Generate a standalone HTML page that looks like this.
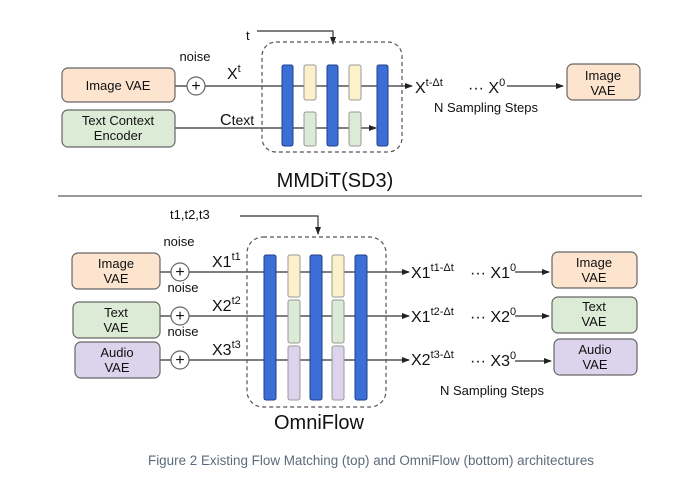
<!DOCTYPE html>
<html><head><style>
html,body{margin:0;padding:0;background:#fff;}
svg{display:block;font-family:"Liberation Sans",Arial,sans-serif;}
</style></head><body>
<svg width="690" height="482" viewBox="0 0 690 482" xmlns="http://www.w3.org/2000/svg">
<defs>
<marker id="a" markerWidth="8" markerHeight="6" refX="7" refY="3" orient="auto" markerUnits="userSpaceOnUse"><path d="M0,0 L8,3 L0,6z" fill="#222"/></marker>
</defs>
<g stroke="#333" stroke-width="1.2" fill="none">
<line x1="175" y1="86" x2="412" y2="86" marker-end="url(#a)"/>
<line x1="175" y1="128" x2="376" y2="128" marker-end="url(#a)"/>
<polyline points="257,31 333,31 333,44" marker-end="url(#a)"/>
<line x1="507" y1="86" x2="563" y2="86" marker-end="url(#a)"/>
<rect x="262" y="42" width="140" height="110" rx="14" stroke-dasharray="4,3" stroke="#555"/>
<line x1="160" y1="272" x2="409" y2="272" marker-end="url(#a)"/>
<line x1="160" y1="316" x2="409" y2="316" marker-end="url(#a)"/>
<line x1="160" y1="360" x2="409" y2="360" marker-end="url(#a)"/>
<polyline points="240,216 318,216 318,234" marker-end="url(#a)"/>
<line x1="515" y1="272" x2="549" y2="272" marker-end="url(#a)"/>
<line x1="515" y1="316" x2="549" y2="316" marker-end="url(#a)"/>
<line x1="515" y1="361" x2="551" y2="361" marker-end="url(#a)"/>
<rect x="247" y="237" width="139" height="170" rx="16" stroke-dasharray="4,3" stroke="#555"/>
</g>
<line x1="58" y1="196" x2="642" y2="196" stroke="#333" stroke-width="1"/>
<g stroke="#666" stroke-width="1.2">
<rect x="62" y="68" width="113" height="34" rx="6" fill="#fde4cf"/>
<rect x="62" y="110" width="113" height="37" rx="6" fill="#dcebd6"/>
<rect x="567" y="64" width="73" height="36" rx="6" fill="#fde4cf"/>
<rect x="72" y="253" width="88" height="36" rx="6" fill="#fde4cf"/>
<rect x="73" y="302" width="87" height="36" rx="6" fill="#dcebd6"/>
<rect x="75" y="342" width="85" height="36" rx="6" fill="#dcd4ec"/>
<rect x="552" y="252" width="85" height="36" rx="6" fill="#fde4cf"/>
<rect x="552" y="297" width="85" height="36" rx="6" fill="#dcebd6"/>
<rect x="554" y="339" width="83" height="36" rx="6" fill="#dcd4ec"/>
<circle cx="196" cy="86" r="9" fill="#fff"/>
<circle cx="180" cy="272" r="9" fill="#fff"/>
<circle cx="180" cy="316" r="9" fill="#fff"/>
<circle cx="180" cy="360" r="9" fill="#fff"/>
</g>
<g stroke="#1f3f8a" stroke-width="1" fill="#3b6fd6">
<rect x="282" y="65" width="11" height="81" rx="2"/>
<rect x="327" y="65" width="11" height="81" rx="2"/>
<rect x="377" y="65" width="11" height="81" rx="2"/>
<rect x="264" y="255" width="12" height="145" rx="2"/>
<rect x="310" y="255" width="12" height="145" rx="2"/>
<rect x="355" y="255" width="12" height="145" rx="2"/>
</g>
<g stroke="#999" stroke-width="1">
<rect x="304" y="65" width="12" height="35" rx="2" fill="#fdf1c9"/>
<rect x="349" y="65" width="12" height="35" rx="2" fill="#fdf1c9"/>
<rect x="304" y="112" width="12" height="34" rx="2" fill="#dcebd6"/>
<rect x="349" y="112" width="12" height="34" rx="2" fill="#dcebd6"/>
<rect x="288" y="255" width="12" height="42" rx="2" fill="#fdf1c9"/>
<rect x="332" y="255" width="12" height="42" rx="2" fill="#fdf1c9"/>
<rect x="288" y="300" width="12" height="43" rx="2" fill="#dcebd6"/>
<rect x="332" y="300" width="12" height="43" rx="2" fill="#dcebd6"/>
<rect x="288" y="346" width="12" height="54" rx="2" fill="#dcd4ec"/>
<rect x="332" y="346" width="12" height="54" rx="2" fill="#dcd4ec"/>
</g>
<g fill="#111" font-size="13" text-anchor="middle">
<text x="196" y="91" font-size="16">+</text>
<text x="180" y="277" font-size="16">+</text>
<text x="180" y="321" font-size="16">+</text>
<text x="180" y="365" font-size="16">+</text>
<text x="118" y="90">Image VAE</text>
<text x="118" y="125">Text Context</text>
<text x="118" y="140">Encoder</text>
<text x="603" y="80">Image</text>
<text x="603" y="95">VAE</text>
<text x="116" y="268">Image</text><text x="116" y="283">VAE</text>
<text x="116" y="317">Text</text><text x="116" y="332">VAE</text>
<text x="117" y="357">Audio</text><text x="117" y="372">VAE</text>
<text x="594" y="267">Image</text><text x="594" y="282">VAE</text>
<text x="594" y="311">Text</text><text x="594" y="326">VAE</text>
<text x="595" y="354">Audio</text><text x="595" y="369">VAE</text>
<text x="195" y="61">noise</text>
<text x="179" y="246">noise</text>
<text x="183" y="292">noise</text>
<text x="183" y="336">noise</text>
<text x="486" y="112">N Sampling Steps</text>
<text x="492" y="395">N Sampling Steps</text>
<text x="335" y="187" font-size="20">MMDiT(SD3)</text>
<text x="319" y="429" font-size="20">OmniFlow</text>
</g>
<g fill="#111" font-size="16">
<text x="246" y="40" font-size="13">t</text>
<text x="170" y="219" font-size="13">t1,t2,t3</text>
<text x="227" y="79">X<tspan font-size="11" dy="-7">t</tspan></text>
<text x="220" y="125">C<tspan font-size="14">text</tspan></text>
<text x="415" y="93">X<tspan font-size="11" dy="-7">t-Δt</tspan></text>
<text x="468" y="93">··· X<tspan font-size="11" dy="-7">0</tspan></text>
<text x="212" y="267">X1<tspan font-size="11" dy="-7">t1</tspan></text>
<text x="212" y="311">X2<tspan font-size="11" dy="-7">t2</tspan></text>
<text x="212" y="355">X3<tspan font-size="11" dy="-7">t3</tspan></text>
<text x="411" y="278">X1<tspan font-size="11" dy="-7">t1-Δt</tspan></text>
<text x="411" y="322">X1<tspan font-size="11" dy="-7">t2-Δt</tspan></text>
<text x="411" y="365">X2<tspan font-size="11" dy="-7">t3-Δt</tspan></text>
<text x="470" y="278">··· X1<tspan font-size="11" dy="-7">0</tspan></text>
<text x="470" y="322">··· X2<tspan font-size="11" dy="-7">0</tspan></text>
<text x="470" y="366">··· X3<tspan font-size="11" dy="-7">0</tspan></text>
</g>
<text x="371" y="465" text-anchor="middle" font-size="13.5" fill="#5b6b7c" textLength="446" lengthAdjust="spacingAndGlyphs">Figure 2 Existing Flow Matching (top) and OmniFlow (bottom) architectures</text>
</svg>
</body></html>
